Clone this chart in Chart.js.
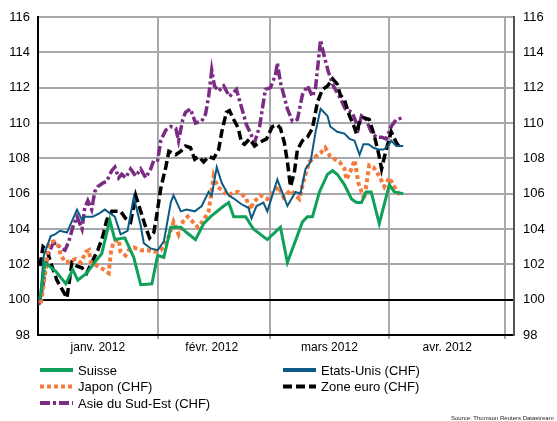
<!DOCTYPE html>
<html>
<head>
<meta charset="utf-8">
<script src="https://cdn.jsdelivr.net/npm/chart.js@4"></script>
<style>
html, body { margin: 0; padding: 0; background: #fff; }
</style>
</head>
<body>
<canvas id="chart" width="557" height="421"></canvas>
<script>
// days since 1 Jan 2012, index value (CHF)
const suisse = [
    [0.5, 100.0], [1.8, 102.1], [4.6, 101.6], [7.2, 100.9], [9.0, 101.7], [10.3, 101.1],
    [12.6, 101.5], [15.0, 102.2], [16.5, 102.6], [18.6, 104.5], [19.9, 103.4], [22.5, 103.5],
    [24.8, 102.4], [26.6, 100.85], [29.5, 100.9], [31.0, 102.5], [32.6, 102.4], [34.4, 104.1],
    [37.0, 104.1], [38.5, 103.8], [40.8, 103.4], [42.9, 104.3], [44.7, 104.7], [48.1, 105.3],
    [49.4, 105.5], [50.7, 104.7], [53.8, 104.7], [55.8, 104.0], [59.4, 103.4], [62.8, 104.1],
    [64.6, 102.1], [68.5, 104.4], [69.8, 104.7], [71.1, 104.7], [72.9, 106.1], [75.0, 107.1],
    [76.3, 107.3], [77.5, 107.1], [79.4, 106.5], [81.2, 105.7], [82.5, 105.5], [83.8, 105.5],
    [85.0, 106.1], [86.3, 106.1], [88.4, 104.3], [91.0, 106.5], [92.3, 106.1], [94.6, 106.0]
];
const etatsUnis = [
    [0.5, 100.0], [1.5, 102.5], [3.3, 103.6], [4.4, 103.7], [5.7, 103.9], [7.5, 103.8],
    [10.1, 105.1], [11.4, 104.5], [12.1, 104.7], [14.2, 104.7], [16.0, 104.9], [17.3, 105.1],
    [18.6, 104.9], [19.9, 104.7], [21.4, 103.7], [23.2, 103.9], [24.8, 105.8], [26.6, 104.2],
    [27.4, 103.2], [29.2, 102.9], [31.0, 102.8], [32.6, 103.3], [34.4, 105.5], [35.1, 105.9],
    [37.0, 105.0], [38.5, 105.1], [40.6, 105.0], [42.4, 105.3], [44.2, 106.1], [45.0, 105.9],
    [46.3, 107.5], [47.6, 106.6], [49.4, 105.9], [50.9, 105.7], [52.7, 105.4], [54.5, 105.2],
    [55.3, 104.6], [56.6, 105.3], [58.4, 105.5], [59.4, 105.0], [62.0, 106.8], [64.6, 105.3],
    [66.7, 106.1], [68.0, 106.0], [69.3, 107.4], [70.6, 107.8], [71.9, 109.5], [73.2, 110.8],
    [75.0, 110.4], [75.7, 109.8], [77.5, 109.5], [79.4, 109.4], [80.7, 109.1], [82.0, 109.0],
    [83.3, 108.2], [84.3, 108.8], [85.6, 108.8], [86.9, 108.6], [88.2, 108.5], [89.5, 108.5],
    [90.7, 108.7], [91.5, 109.0], [92.8, 108.7], [94.6, 108.7]
];
const japon = [
    [0.75, 99.8], [2.0, 101.7], [2.8, 103.2], [4.1, 103.3], [5.4, 103.0], [5.9, 102.5],
    [7.2, 102.1], [8.5, 102.2], [9.8, 102.3], [11.1, 102.1], [12.4, 102.7], [13.2, 102.8],
    [13.7, 102.1], [15.5, 101.9], [17.0, 101.7], [18.3, 101.5], [18.9, 102.7], [19.6, 103.3],
    [20.9, 103.4], [21.4, 102.7], [22.7, 102.5], [23.5, 102.8], [24.8, 102.95], [26.6, 102.8],
    [28.4, 102.8], [30.0, 102.7], [31.8, 102.8], [33.1, 103.2], [33.9, 103.6], [35.1, 104.4],
    [36.4, 103.7], [37.5, 104.4], [38.8, 104.7], [40.1, 104.4], [41.4, 104.1], [42.9, 104.5],
    [44.2, 105.0], [45.5, 107.0], [46.5, 106.4], [48.1, 106.1], [49.4, 105.9], [50.7, 106.1],
    [51.9, 106.1], [53.8, 105.8], [55.0, 105.1], [55.8, 105.5], [57.6, 105.9], [59.4, 105.7],
    [61.0, 106.1], [62.3, 106.4], [63.6, 105.8], [65.4, 106.2], [66.7, 105.9], [67.7, 105.7],
    [69.0, 106.9], [70.3, 107.8], [71.9, 108.1], [73.2, 108.3], [74.4, 108.6], [75.7, 108.1],
    [78.1, 107.8], [79.4, 107.4], [79.9, 106.8], [81.2, 107.4], [82.0, 107.9], [83.0, 106.6],
    [83.8, 106.1], [84.5, 105.7], [85.8, 107.6], [86.9, 107.5], [88.4, 107.0], [89.7, 106.4],
    [91.0, 106.9], [92.3, 106.4], [94.1, 105.8]
];
const zoneEuro = [
    [0.5, 101.9], [1.3, 103.0], [2.3, 102.8], [3.6, 101.9], [4.9, 101.1], [6.2, 100.6],
    [7.5, 100.1], [8.8, 102.1], [10.1, 101.9], [11.4, 101.8], [12.6, 101.5], [13.9, 102.1],
    [15.5, 102.8], [16.8, 103.6], [17.8, 104.5], [19.1, 105.0], [20.4, 105.0], [21.4, 105.0],
    [22.7, 104.6], [24.0, 104.4], [25.3, 105.9], [26.6, 105.0], [27.9, 104.1], [28.9, 103.5],
    [30.0, 103.8], [30.7, 104.7], [31.8, 106.3], [33.1, 107.5], [33.9, 108.4], [35.7, 108.2],
    [37.0, 108.4], [38.2, 108.7], [39.5, 108.6], [40.6, 107.95], [41.6, 108.1], [42.9, 107.8],
    [44.2, 108.1], [45.5, 108.0], [46.8, 108.5], [47.6, 109.5], [48.8, 110.6], [49.6, 110.7],
    [50.7, 110.2], [51.9, 109.7], [52.7, 108.9], [53.5, 108.8], [54.8, 109.1], [56.1, 108.7],
    [57.4, 108.9], [59.2, 109.1], [60.7, 109.8], [62.0, 109.9], [62.8, 109.7], [63.8, 108.9],
    [64.6, 107.8], [65.4, 106.4], [66.4, 107.2], [67.2, 108.5], [68.5, 109.0], [69.8, 109.2],
    [71.1, 109.7], [72.4, 111.2], [73.7, 111.9], [75.0, 112.1], [76.3, 112.5], [77.5, 112.2],
    [78.3, 111.6], [79.4, 111.3], [80.7, 110.4], [81.7, 109.9], [82.5, 109.4], [83.3, 110.1],
    [84.3, 110.3], [85.8, 110.2], [87.1, 109.3], [88.2, 108.3], [89.0, 107.4], [90.2, 108.5],
    [91.5, 109.5], [92.8, 108.9], [94.1, 108.5]
];
const asie = [
    [0.2, 99.7], [1.3, 100.8], [1.8, 101.7], [2.6, 102.5], [3.9, 103.2], [4.9, 103.2],
    [5.9, 102.9], [7.0, 102.8], [8.0, 103.3], [9.0, 104.1], [10.1, 104.7], [11.4, 104.0],
    [12.1, 105.2], [12.9, 105.6], [13.9, 105.1], [14.7, 106.1], [15.5, 106.4], [16.8, 106.6],
    [17.8, 106.7], [19.1, 107.3], [19.9, 107.5], [20.9, 106.9], [21.7, 107.1], [22.7, 106.9],
    [24.0, 107.4], [25.3, 107.0], [26.6, 107.4], [27.9, 106.9], [29.2, 107.4], [30.0, 107.9],
    [31.0, 107.9], [31.8, 109.0], [33.1, 109.6], [34.4, 109.8], [35.7, 109.7], [36.4, 109.0],
    [37.5, 110.2], [38.2, 110.6], [39.5, 110.8], [40.8, 110.0], [42.4, 110.1], [43.4, 110.5],
    [44.2, 111.5], [45.0, 113.0], [45.7, 112.1], [46.8, 111.8], [48.1, 112.1], [49.6, 111.5],
    [51.4, 111.9], [52.7, 110.9], [54.0, 109.9], [55.3, 109.3], [56.1, 108.9], [57.4, 109.8],
    [58.9, 111.9], [60.2, 112.0], [61.5, 112.7], [62.0, 113.4], [62.8, 112.3], [64.6, 110.8],
    [65.9, 110.1], [67.2, 110.2], [68.5, 111.6], [69.8, 112.1], [71.1, 111.5], [71.9, 112.0],
    [73.2, 114.7], [73.9, 114.0], [75.2, 112.9], [76.5, 112.1], [78.3, 111.4], [79.6, 110.8],
    [81.4, 110.6], [83.0, 109.7], [83.8, 110.4], [85.0, 110.2], [86.3, 109.5], [87.6, 109.2],
    [89.0, 109.2], [90.2, 109.1], [91.5, 109.8], [92.8, 110.2], [94.6, 110.3]
];

const monthStarts = [31, 60, 91, 121];
const monthMids = [15.5, 45, 75.5, 106];
const monthLabels = ['janv. 2012', 'févr. 2012', 'mars 2012', 'avr. 2012'];
const seriesNames = ['Suisse', 'Etats-Unis (CHF)', 'Japon (CHF)', 'Zone euro (CHF)', 'Asie du Sud-Est (CHF)'];

const FONT = "'Liberation Sans', Arial, sans-serif";
Chart.defaults.font.family = FONT;
Chart.defaults.color = '#000';

const toXY = arr => arr.map(p => ({ x: p[0], y: p[1] }));

// legend in two columns under the plot, plus the source line
const bottomLegend = {
    id: 'bottomLegend',
    afterDraw(chart) {
        const c = chart.ctx;
        c.save();
        chart.data.datasets.forEach((ds, i) => {
            const x = i % 2 === 0 ? 40 : 283;
            const y = 370 + Math.floor(i / 2) * 16.5;
            c.beginPath();
            c.strokeStyle = ds.borderColor;
            c.lineWidth = 4;
            c.setLineDash(ds.borderDash || []);
            c.moveTo(x, y);
            c.lineTo(x + 33, y);
            c.stroke();
            c.setLineDash([]);
            c.fillStyle = '#000';
            c.font = '13px ' + FONT;
            c.textBaseline = 'middle';
            c.textAlign = 'left';
            c.fillText(ds.label, x + 38, y + 1);
        });
        c.font = '6px ' + FONT;
        c.fillStyle = '#222';
        c.fillText('Source: Thomson Reuters Datastream', 451, 418);
        c.restore();
    }
};

const gridGray = '#a6a8ab';

new Chart(document.getElementById('chart'), {
    type: 'line',
    data: {
        datasets: [
            { label: seriesNames[0], data: toXY(suisse), borderColor: '#0fa05a', borderWidth: 3 },
            { label: seriesNames[1], data: toXY(etatsUnis), borderColor: '#0d5a85', borderWidth: 2 },
            { label: seriesNames[2], data: toXY(japon), borderColor: '#f47b3b', borderWidth: 4, borderDash: [4, 3] },
            { label: seriesNames[3], data: toXY(zoneEuro), borderColor: '#000000', borderWidth: 3.5, borderDash: [9, 4] },
            { label: seriesNames[4], data: toXY(asie), borderColor: '#7c2b84', borderWidth: 3.5, borderDash: [10, 3, 3, 3] }
        ]
    },
    options: {
        responsive: false,
        animation: false,
        layout: { padding: { top: 17, bottom: 62, left: 0, right: 0 } },
        elements: {
            point: { radius: 0 },
            line: { tension: 0, fill: false }
        },
        plugins: {
            legend: { display: false },
            tooltip: { enabled: false }
        },
        scales: {
            x: {
                type: 'linear',
                position: 'bottom',
                min: 0,
                max: 123.3,
                afterBuildTicks: s => { s.ticks = monthStarts.map(v => ({ value: v })); },
                ticks: { display: false },
                grid: { color: gridGray, lineWidth: 2, tickLength: 4 },
                border: { color: '#000', width: 2 },
                afterFit: s => { s.height = 4; }
            },
            xLabels: {
                type: 'linear',
                position: 'bottom',
                min: 0,
                max: 123.3,
                afterBuildTicks: s => { s.ticks = monthMids.map(v => ({ value: v })); },
                ticks: {
                    font: { size: 12 },
                    padding: 1,
                    maxRotation: 0,
                    autoSkip: false,
                    callback: (v, i) => monthLabels[i]
                },
                grid: { display: false, drawTicks: false },
                border: { display: false },
                afterFit: s => { s.height = 20; }
            },
            y: {
                position: 'left',
                min: 98,
                max: 116,
                ticks: { stepSize: 2, font: { size: 13 }, padding: 8 },
                grid: {
                    color: c => (c.tick && c.tick.value === 100 ? '#000' : gridGray),
                    lineWidth: 2,
                    drawTicks: false
                },
                border: { color: '#000', width: 2 },
                afterFit: s => { s.width = 38; }
            },
            y2: {
                position: 'right',
                min: 98,
                max: 116,
                ticks: { stepSize: 2, font: { size: 13 }, padding: 9 },
                grid: { display: false, drawTicks: false },
                border: { color: '#555', width: 2 },
                afterFit: s => { s.width = 43; }
            }
        }
    },
    plugins: [bottomLegend]
});
</script>
</body>
</html>
